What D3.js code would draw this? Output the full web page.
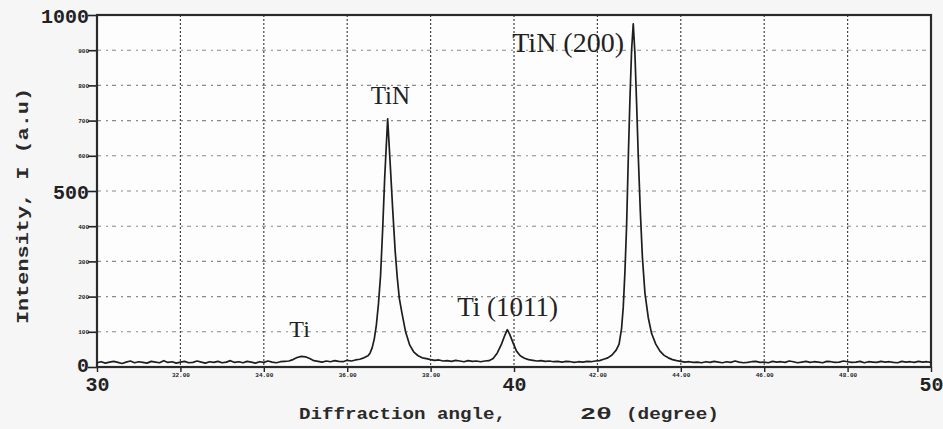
<!DOCTYPE html>
<html><head><meta charset="utf-8">
<script src="https://cdn.jsdelivr.net/npm/d3@7"></script>
<style>
html,body{margin:0;padding:0;background:#f6f6f6;}
svg{display:block;}
</style></head>
<body>
<svg id="chart" width="943" height="429"></svg>
<script>
// ---- data (2θ in degrees, intensity in a.u.) ----
const baseline1 = [[30.0,12],[30.1,15],[30.2,11],[30.3,14],[30.4,16],[30.5,13],[30.6,10],[30.7,14],[30.8,17],[30.9,12],
 [31.0,15],[31.1,13],[31.2,11],[31.3,16],[31.4,14],[31.5,12],[31.6,18],[31.7,13],[31.8,15],[31.9,11],
 [32.0,14],[32.1,16],[32.2,12],[32.3,13],[32.4,17],[32.5,14],[32.6,11],[32.7,15],[32.8,13],[32.9,16],
 [33.0,12],[33.1,14],[33.2,18],[33.3,13],[33.4,15],[33.5,12],[33.6,16],[33.7,14],[33.8,11],[33.9,15],
 [34.0,13],[34.1,17],[34.2,14],[34.3,12],[34.4,15],[34.5,16]];
const peakTi = [[34.6,17],[34.7,21],[34.8,27],[34.9,30],[35.0,29],[35.1,24],[35.2,18]];
const baseline2 = [[35.3,16],[35.4,14],[35.5,17],[35.6,15],[35.7,18],[35.8,16],[35.9,15],[36.0,19],[36.1,17],[36.2,20],[36.3,22],[36.4,26]];
const peakTiN = [[36.5,32],[36.55,40],[36.6,55],[36.65,80],[36.7,120],[36.75,180],[36.8,260],[36.85,390],[36.9,540],[36.97,705],
 [37.03,580],[37.09,450],[37.15,330],[37.2,255],[37.25,195],[37.31,155],[37.4,100],[37.5,62],[37.6,42],[37.7,32],[37.8,26]];
const baseline3 = [[37.9,24],[38.0,21],[38.1,19],[38.2,20],[38.3,17],[38.4,18],[38.5,16],[38.6,19],[38.7,17],[38.8,15],[38.9,18],[39.0,16],[39.1,17],[39.2,15],[39.3,17]];
const peakTi1011 = [[39.4,18],[39.5,24],[39.6,40],[39.7,65],[39.78,90],[39.84,106],[39.9,92],[39.98,68],[40.06,45],[40.15,32],[40.25,25],[40.35,21]];
const baseline4 = [[40.45,19],[40.55,17],[40.65,18],[40.75,16],[40.85,17],[40.95,15],[41.05,16],[41.15,14],[41.25,16],[41.35,15],
 [41.45,13],[41.55,15],[41.65,14],[41.75,16],[41.85,15],[41.95,17],[42.05,18],[42.15,22],[42.25,26]];
const peakTiN200 = [[42.35,34],[42.45,48],[42.52,65],[42.58,110],[42.62,170],[42.66,270],[42.7,400],[42.74,590],[42.78,760],[42.82,900],
 [42.86,975],[42.9,890],[42.94,750],[42.98,600],[43.03,440],[43.08,310],[43.14,210],[43.22,140],[43.3,95],[43.4,65],[43.5,45],[43.6,33],[43.7,26],[43.8,21]];
const baseline5 = [[43.9,18],[44.0,16],[44.1,14],[44.2,15],[44.3,13],[44.4,14],[44.5,12],[44.6,15],[44.7,13],[44.8,16],
 [44.9,14],[45.0,12],[45.1,15],[45.2,13],[45.3,17],[45.4,14],[45.5,12],[45.6,13],[45.7,15],[45.8,16],
 [45.9,13],[46.0,14],[46.1,12],[46.2,16],[46.3,14],[46.4,15],[46.5,13],[46.6,17],[46.7,15],[46.8,12],
 [46.9,14],[47.0,16],[47.1,13],[47.2,15],[47.3,14],[47.4,12],[47.5,16],[47.6,15],[47.7,13],[47.8,14],
 [47.9,17],[48.0,15],[48.1,13],[48.2,14],[48.3,16],[48.4,12],[48.5,15],[48.6,14],[48.7,13],[48.8,16],
 [48.9,14],[49.0,15],[49.1,13],[49.2,12],[49.3,16],[49.4,14],[49.5,15],[49.6,13],[49.7,16],[49.8,14],
 [49.9,15],[50.0,13]];

const xTicks = [30,32,34,36,38,40,42,44,46,48,50];
const xTickLabels = ["30","32.00","34.00","36.00","38.00","40","42.00","44.00","46.00","48.00","50"];
const yTicks = [0,100,200,300,400,500,600,700,800,900,1000];
const yTickLabels = ["0","100","200","300","400","500","600","700","800","900","1000"];
const majorX = [30,40,50];
const majorY = [0,500,1000];

const peakLabels = ["Ti","TiN","Ti (1011)","TiN (200)"];
const peakLabelAt = [[34.9,30],[36.97,705],[39.84,106],[42.86,975]];

// ---- drawing ----
const scan = [].concat(baseline1, peakTi, baseline2, peakTiN, baseline3, peakTi1011, baseline4, peakTiN200, baseline5);

const svg = d3.select("#chart");
const x = d3.scaleLinear().domain([30,50]).range([97,931]);
const y = d3.scaleLinear().domain([0,1000]).range([367,15]);
const monoFont = "'Liberation Mono','DejaVu Sans Mono',monospace";

// plot background
svg.append("rect").attr("x",x(30)).attr("y",y(1000)).attr("width",x(50)-x(30)).attr("height",y(0)-y(1000)).attr("fill","#fdfdfd");

// grid
const grid = svg.append("g");
grid.selectAll("line.v").data(xTicks.filter(d=>d>30&&d<50)).join("line")
  .attr("x1",d=>x(d)).attr("x2",d=>x(d)).attr("y1",y(1000)).attr("y2",y(0))
  .attr("stroke","#444").attr("stroke-width",1.2).attr("stroke-dasharray","2,2");
grid.selectAll("line.h").data(yTicks.filter(d=>d>0&&d<1000)).join("line")
  .attr("x1",x(30)).attr("x2",x(50)).attr("y1",d=>y(d)).attr("y2",d=>y(d))
  .attr("stroke","#666").attr("stroke-width",1.1).attr("stroke-dasharray","4,5,2,4").attr("opacity",0.75);

// axes
const yAxis = d3.axisLeft(y).tickValues(yTicks).tickSize(9).tickFormat((d,i)=>yTickLabels[i]);
const gy = svg.append("g").attr("transform",`translate(${x(30)},0)`).call(yAxis);
gy.select(".domain").remove();
gy.selectAll(".tick line").attr("stroke","#222").attr("stroke-width",1.6);
gy.selectAll(".tick text")
  .attr("font-family",monoFont).attr("font-weight","bold").attr("fill","#222")
  .attr("font-size",d=>majorY.includes(d)?20:6).attr("x",-8)
  .attr("dy",d=>d===0?"0.2em":"0.35em");

const xAxis = d3.axisBottom(x).tickValues(xTicks).tickSize(5).tickFormat((d,i)=>xTickLabels[i]);
const gx = svg.append("g").attr("transform",`translate(0,${y(0)})`).call(xAxis);
gx.select(".domain").remove();
gx.selectAll(".tick line").attr("stroke","#222").attr("stroke-width",1.4);
gx.selectAll(".tick text")
  .attr("font-family",monoFont).attr("font-weight","bold").attr("fill","#222")
  .attr("font-size",d=>majorX.includes(d)?20:6)
  .attr("y",d=>majorX.includes(d)?10:6);

// frame
svg.append("rect").attr("x",x(30)).attr("y",y(1000)).attr("width",x(50)-x(30)).attr("height",y(0)-y(1000))
  .attr("fill","none").attr("stroke","#2a2a2a").attr("stroke-width",2.2);

// scan line
svg.append("path").datum(scan)
  .attr("d",d3.line().x(d=>x(d[0])).y(d=>y(d[1])))
  .attr("fill","none").attr("stroke","#1e1e1e").attr("stroke-width",1.7).attr("stroke-linejoin","round");

// peak labels
const labelOffset = [[-12,-19],[-17,-15],[-50,-14],[-121,28]];
const labelSize = [24,25,27,28];
svg.append("g").selectAll("text").data(peakLabels).join("text")
  .attr("x",(d,i)=>x(peakLabelAt[i][0])+labelOffset[i][0])
  .attr("y",(d,i)=>y(peakLabelAt[i][1])+labelOffset[i][1])
  .attr("font-family","'Liberation Serif','Times New Roman',serif")
  .attr("font-size",(d,i)=>labelSize[i]).attr("fill","#222")
  .text(d=>d);

// axis titles
svg.append("text").attr("transform","translate(28,206) rotate(-90)")
  .attr("text-anchor","middle").attr("font-family",monoFont).attr("font-weight","bold")
  .attr("font-size",17).attr("fill","#2a2a2a")
  .attr("textLength",236).attr("lengthAdjust","spacingAndGlyphs")
  .text("Intensity, I (a.u)");
const xt = svg.append("g").attr("font-family",monoFont).attr("font-weight","bold").attr("font-size",17).attr("fill","#2a2a2a");
xt.append("text").attr("x",299).attr("y",419).attr("textLength",207).attr("lengthAdjust","spacingAndGlyphs").text("Diffraction angle,");
xt.append("text").attr("x",580).attr("y",419).attr("textLength",32).attr("lengthAdjust","spacingAndGlyphs").text("2θ");
xt.append("text").attr("x",626).attr("y",419).attr("textLength",93).attr("lengthAdjust","spacingAndGlyphs").text("(degree)");
</script>
</body></html>
